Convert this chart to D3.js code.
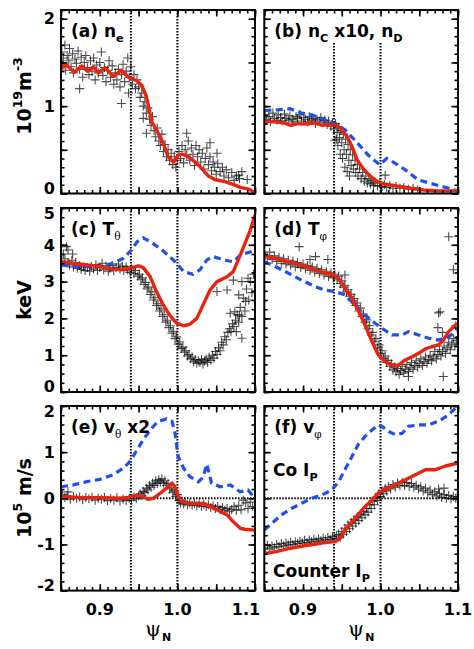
<!DOCTYPE html>
<html><head><meta charset="utf-8">
<script src="https://cdn.jsdelivr.net/npm/d3@7"></script>
<style>
body{margin:0;background:#fff}
svg{display:block}
text{font-family:"DejaVu Sans",sans-serif;font-weight:bold;fill:#000}
</style>
</head><body>
<svg id="c" width="474" height="649"></svg>
<script>
// ---------------- DATA ----------------
const xDomain = [0.85, 1.1];
const xLabelTicks = [0.9, 1.0, 1.1];
const sepLines = [0.94, 1.0];
const yDomainDens = [0, 2.1], yLabelDens = [0, 1, 2];
const yDomainTemp = [0, 5],   yLabelTemp = [0, 1, 2, 3, 4, 5];
const yDomainVel  = [-2, 2],  yLabelVel  = [-2, -1, 0, 1, 2];

// (a) n_e
const neScatter = [[0.851,1.62],[0.852,1.48],[0.853,1.55],[0.855,1.70],[0.856,1.41],[0.858,1.58],[0.860,1.52],[0.861,1.66],[0.863,1.45],[0.865,1.60],[0.866,1.38],[0.868,1.54],[0.870,1.49],[0.872,1.63],[0.874,1.42],[0.874,1.20],[0.876,1.56],[0.878,1.33],[0.880,1.50],[0.882,1.58],[0.884,1.44],[0.886,1.36],[0.888,1.52],[0.890,1.40],[0.892,1.55],[0.894,1.30],[0.896,1.47],[0.898,1.38],[0.900,1.50],[0.902,1.62],[0.904,1.35],[0.906,1.44],[0.908,1.28],[0.910,1.41],[0.912,1.52],[0.914,1.33],[0.916,1.46],[0.918,1.25],[0.920,1.38],[0.922,1.30],[0.924,1.42],[0.926,1.22],[0.928,1.36],[0.928,1.03],[0.930,1.48],[0.932,1.28],[0.934,1.40],[0.936,1.55],[0.937,1.15],[0.938,1.33],[0.940,1.45],[0.942,1.25],[0.944,1.36],[0.946,1.20],[0.948,1.30],[0.950,1.22],[0.952,1.10],[0.954,1.15],[0.956,1.00],[0.956,0.86],[0.958,1.05],[0.960,0.92],[0.960,0.69],[0.962,0.98],[0.964,0.85],[0.966,0.78],[0.968,0.88],[0.970,0.72],[0.972,0.65],[0.974,0.75],[0.976,0.60],[0.978,0.55],[0.980,0.68],[0.982,0.48],[0.984,0.56],[0.986,0.42],[0.988,0.50],[0.990,0.38],[0.992,0.46],[0.994,0.33],[0.996,0.42],[0.998,0.30],[1.000,0.38],[1.002,0.48],[1.004,0.40],[1.006,0.55],[1.008,0.35],[1.010,0.50],[1.012,0.44],[1.012,0.69],[1.014,0.60],[1.016,0.38],[1.018,0.52],[1.020,0.45],[1.022,0.32],[1.024,0.55],[1.026,0.42],[1.028,0.50],[1.030,0.36],[1.032,0.46],[1.034,0.28],[1.036,0.40],[1.038,0.52],[1.040,0.33],[1.042,0.42],[1.042,0.58],[1.044,0.26],[1.046,0.36],[1.048,0.30],[1.050,0.22],[1.051,0.46],[1.052,0.34],[1.055,0.25],[1.058,0.30],[1.060,0.20],[1.063,0.27],[1.066,0.18],[1.070,0.24],[1.073,0.15],[1.076,0.20],[1.079,0.21],[1.080,0.17],[1.083,0.25],[1.090,0.16]];
const neRed = [[0.850,1.43],[0.857,1.47],[0.867,1.39],[0.877,1.46],[0.884,1.40],[0.892,1.45],[0.898,1.38],[0.907,1.44],[0.917,1.34],[0.928,1.41],[0.937,1.33],[0.948,1.29],[0.954,1.24],[0.960,1.11],[0.967,0.82],[0.973,0.73],[0.982,0.57],[0.988,0.42],[0.995,0.36],[1.001,0.44],[1.006,0.45],[1.014,0.42],[1.023,0.36],[1.031,0.29],[1.040,0.20],[1.048,0.16],[1.061,0.135],[1.072,0.105],[1.081,0.07],[1.092,0.05],[1.100,0.01]];

// (b) n_C x10, n_D
const ncScatter = [[0.851,0.90],[0.853,0.85],[0.856,0.88],[0.858,0.82],[0.861,0.92],[0.863,0.86],[0.866,0.84],[0.868,0.90],[0.871,0.87],[0.873,0.83],[0.876,0.91],[0.878,0.86],[0.881,0.84],[0.883,0.89],[0.886,0.85],[0.888,0.82],[0.891,0.88],[0.893,0.86],[0.896,0.90],[0.898,0.83],[0.901,0.87],[0.903,0.85],[0.906,0.82],[0.908,0.88],[0.911,0.84],[0.913,0.86],[0.916,0.80],[0.918,0.85],[0.921,0.83],[0.923,0.87],[0.926,0.81],[0.928,0.84],[0.931,0.79],[0.933,0.83],[0.936,0.77],[0.938,0.81],[0.940,0.74],[0.941,0.61],[0.942,0.80],[0.943,0.62],[0.944,0.70],[0.945,0.55],[0.946,0.76],[0.947,0.64],[0.948,0.45],[0.949,0.72],[0.950,0.58],[0.951,0.40],[0.952,0.68],[0.953,0.50],[0.954,0.30],[0.955,0.62],[0.956,0.45],[0.957,0.25],[0.958,0.56],[0.959,0.38],[0.960,0.20],[0.961,0.50],[0.962,0.32],[0.964,0.44],[0.965,0.28],[0.967,0.38],[0.968,0.24],[0.970,0.33],[0.971,0.20],[0.973,0.28],[0.975,0.17],[0.977,0.24],[0.979,0.14],[0.981,0.20],[0.983,0.12],[0.985,0.17],[0.987,0.11],[0.989,0.15],[0.991,0.09],[0.993,0.13],[0.996,0.09],[0.999,0.12],[1.002,0.08],[1.005,0.10],[1.006,0.21],[1.008,0.07],[1.012,0.09],[1.016,0.06],[1.020,0.08],[1.025,0.06],[1.030,0.07],[1.036,0.05],[1.042,0.06],[1.048,0.04]];
const ncRed = [[0.850,0.83],[0.8625,0.82],[0.875,0.81],[0.884,0.78],[0.893,0.80],[0.906,0.795],[0.914,0.81],[0.925,0.78],[0.931,0.79],[0.942,0.78],[0.949,0.745],[0.957,0.65],[0.964,0.52],[0.970,0.38],[0.979,0.27],[0.988,0.19],[0.996,0.135],[1.005,0.11],[1.022,0.085],[1.039,0.06],[1.056,0.04],[1.074,0.03],[1.100,0.03]];
const ncBlue = [[0.850,0.95],[0.864,0.955],[0.883,0.97],[0.898,0.92],[0.911,0.90],[0.924,0.86],[0.941,0.80],[0.954,0.73],[0.971,0.57],[0.984,0.44],[0.999,0.33],[1.008,0.40],[1.019,0.345],[1.032,0.27],[1.049,0.155],[1.071,0.10],[1.088,0.06],[1.099,0.03]];

// (c) T_theta
const tthScatter = [[0.851,3.55],[0.853,3.75],[0.855,3.62],[0.857,3.95],[0.859,3.86],[0.859,3.50],[0.861,3.45],[0.864,3.58],[0.865,3.75],[0.866,3.40],[0.869,3.52],[0.871,3.36],[0.874,3.44],[0.876,3.33],[0.879,3.40],[0.881,3.30],[0.884,3.38],[0.887,3.28],[0.889,3.42],[0.892,3.34],[0.895,3.46],[0.897,3.30],[0.900,3.38],[0.903,3.50],[0.905,3.32],[0.908,3.42],[0.911,3.28],[0.913,3.36],[0.916,3.44],[0.918,3.30],[0.921,3.38],[0.924,3.48],[0.926,3.34],[0.929,3.42],[0.931,3.30],[0.934,3.40],[0.936,3.32],[0.939,3.25],[0.941,3.35],[0.944,3.22],[0.946,3.30],[0.949,3.15],[0.951,3.20],[0.953,3.05],[0.955,3.10],[0.957,2.92],[0.959,2.98],[0.961,2.80],[0.963,2.85],[0.965,2.65],[0.967,2.72],[0.969,2.50],[0.971,2.56],[0.973,2.35],[0.975,2.40],[0.977,2.20],[0.979,2.26],[0.981,2.05],[0.983,2.10],[0.985,1.90],[0.987,1.95],[0.989,1.75],[0.991,1.80],[0.993,1.60],[0.995,1.65],[0.997,1.45],[0.999,1.50],[1.001,1.30],[1.003,1.36],[1.005,1.18],[1.007,1.22],[1.009,1.08],[1.011,1.12],[1.013,0.98],[1.015,1.02],[1.017,0.90],[1.019,0.95],[1.021,0.82],[1.023,0.88],[1.025,0.78],[1.027,0.85],[1.029,0.80],[1.031,0.88],[1.033,0.76],[1.035,0.84],[1.037,0.90],[1.039,0.80],[1.041,0.95],[1.043,0.86],[1.045,1.00],[1.047,0.92],[1.049,1.10],[1.051,1.02],[1.051,2.73],[1.053,1.20],[1.055,1.12],[1.057,1.35],[1.059,1.28],[1.061,1.50],[1.063,1.42],[1.064,2.77],[1.065,1.62],[1.067,1.72],[1.068,2.14],[1.069,1.65],[1.071,1.85],[1.072,3.04],[1.073,1.78],[1.074,2.18],[1.075,1.95],[1.076,1.64],[1.077,2.10],[1.079,1.90],[1.079,2.64],[1.080,2.09],[1.081,2.30],[1.083,2.05],[1.083,3.00],[1.083,1.46],[1.085,2.55],[1.087,2.20],[1.088,2.46],[1.089,2.80],[1.091,3.09],[1.092,2.50],[1.094,3.00],[1.096,2.70],[1.098,3.20]];
const tthRed = [[0.850,3.54],[0.866,3.50],[0.883,3.45],[0.900,3.41],[0.917,3.34],[0.930,3.32],[0.941,3.38],[0.950,3.43],[0.956,3.38],[0.965,3.13],[0.973,2.73],[0.982,2.36],[0.990,2.09],[0.999,1.87],[1.008,1.80],[1.016,1.84],[1.025,2.00],[1.033,2.36],[1.042,2.77],[1.051,3.00],[1.064,3.13],[1.072,3.27],[1.081,3.72],[1.094,4.40],[1.100,4.81]];
const tthBlue = [[0.850,3.45],[0.874,3.41],[0.900,3.41],[0.917,3.50],[0.930,3.63],[0.941,3.86],[0.948,4.08],[0.956,4.19],[0.965,4.08],[0.978,3.90],[0.990,3.68],[0.999,3.50],[1.008,3.27],[1.020,3.20],[1.029,3.32],[1.038,3.59],[1.046,3.68],[1.059,3.59],[1.072,3.54],[1.081,3.72],[1.100,3.85]];

// (d) T_phi
const tphScatter = [[0.851,3.72],[0.854,3.65],[0.857,3.80],[0.860,3.60],[0.863,3.70],[0.866,3.55],[0.869,3.66],[0.872,3.50],[0.875,3.62],[0.878,3.48],[0.881,3.58],[0.884,3.45],[0.887,3.55],[0.890,3.40],[0.893,3.52],[0.895,3.95],[0.897,3.38],[0.900,3.48],[0.903,3.35],[0.906,3.44],[0.909,3.30],[0.909,3.60],[0.912,3.40],[0.915,3.26],[0.916,3.68],[0.918,3.36],[0.921,3.22],[0.924,3.32],[0.927,3.18],[0.930,3.28],[0.932,3.60],[0.933,3.14],[0.936,3.24],[0.939,3.10],[0.941,3.20],[0.944,3.05],[0.946,3.15],[0.948,2.95],[0.950,3.02],[0.952,2.85],[0.954,2.90],[0.954,3.18],[0.956,2.72],[0.958,2.78],[0.960,2.60],[0.962,2.66],[0.964,2.48],[0.966,2.54],[0.968,2.35],[0.970,2.42],[0.972,2.20],[0.974,2.28],[0.976,2.05],[0.978,2.12],[0.980,1.90],[0.982,1.96],[0.984,1.72],[0.986,1.80],[0.988,1.55],[0.990,1.62],[0.992,1.38],[0.994,1.45],[0.996,1.20],[0.998,1.28],[1.000,1.05],[1.002,1.12],[1.004,0.92],[1.006,0.98],[1.008,0.80],[1.010,0.86],[1.012,0.70],[1.014,0.76],[1.016,0.60],[1.018,0.68],[1.020,0.55],[1.022,0.64],[1.024,0.48],[1.026,0.58],[1.028,0.70],[1.030,0.52],[1.032,0.62],[1.034,0.75],[1.036,0.56],[1.036,0.42],[1.038,0.66],[1.040,0.80],[1.042,0.62],[1.044,0.72],[1.046,0.85],[1.048,0.68],[1.050,0.78],[1.052,0.90],[1.054,0.72],[1.056,0.82],[1.058,0.95],[1.060,0.78],[1.062,0.88],[1.064,1.00],[1.066,0.85],[1.068,0.95],[1.070,1.10],[1.072,0.90],[1.074,1.02],[1.074,1.75],[1.075,2.15],[1.076,1.15],[1.077,2.18],[1.078,0.98],[1.080,1.10],[1.080,1.62],[1.081,0.42],[1.082,1.25],[1.084,1.05],[1.086,1.20],[1.088,1.35],[1.088,4.22],[1.090,1.15],[1.092,1.30],[1.094,1.45],[1.094,3.32],[1.096,1.25],[1.097,1.80],[1.098,1.40]];
const tphRed = [[0.850,3.70],[0.864,3.63],[0.881,3.54],[0.898,3.45],[0.916,3.32],[0.928,3.24],[0.939,3.18],[0.946,3.09],[0.954,2.82],[0.963,2.55],[0.971,2.23],[0.980,1.82],[0.989,1.37],[0.997,1.01],[1.006,0.82],[1.015,0.73],[1.023,0.73],[1.032,0.87],[1.041,0.96],[1.049,1.05],[1.058,1.17],[1.066,1.23],[1.075,1.28],[1.081,1.41],[1.088,1.64],[1.099,1.87]];
const tphBlue = [[0.850,3.54],[0.864,3.41],[0.881,3.23],[0.898,3.04],[0.916,2.86],[0.928,2.77],[0.941,2.73],[0.954,2.64],[0.967,2.36],[0.980,2.09],[0.993,1.87],[1.002,1.73],[1.015,1.55],[1.028,1.55],[1.036,1.64],[1.049,1.55],[1.062,1.46],[1.075,1.41],[1.088,1.50],[1.099,1.68]];

// (e) v_theta x2
const vthScatter = [[0.852,0.08],[0.855,0.02],[0.858,0.05],[0.859,0.14],[0.862,-0.02],[0.866,0.04],[0.870,0.00],[0.874,0.03],[0.878,-0.03],[0.882,0.02],[0.886,-0.01],[0.890,0.03],[0.894,-0.04],[0.898,0.00],[0.902,-0.02],[0.906,0.02],[0.910,-0.05],[0.914,-0.01],[0.918,-0.04],[0.922,0.01],[0.926,-0.06],[0.930,-0.02],[0.934,-0.05],[0.938,0.00],[0.941,-0.04],[0.944,0.03],[0.947,-0.01],[0.950,0.05],[0.952,0.10],[0.954,0.06],[0.956,0.15],[0.958,0.12],[0.960,0.22],[0.962,0.18],[0.964,0.28],[0.966,0.24],[0.968,0.33],[0.970,0.28],[0.972,0.38],[0.974,0.32],[0.976,0.40],[0.978,0.35],[0.980,0.42],[0.982,0.33],[0.984,0.38],[0.986,0.28],[0.988,0.32],[0.990,0.20],[0.992,0.24],[0.994,0.12],[0.996,0.16],[0.998,0.04],[1.000,0.08],[1.002,-0.05],[1.004,-0.10],[1.006,-0.06],[1.008,-0.12],[1.010,-0.08],[1.013,-0.14],[1.016,-0.10],[1.019,-0.15],[1.022,-0.11],[1.025,-0.16],[1.028,-0.12],[1.031,-0.17],[1.034,-0.13],[1.037,-0.18],[1.040,-0.14],[1.043,-0.20],[1.046,-0.16],[1.049,-0.22],[1.052,-0.18],[1.055,-0.24],[1.058,-0.20],[1.061,-0.26],[1.064,-0.22],[1.067,-0.28],[1.070,-0.24],[1.073,-0.18],[1.076,-0.26],[1.079,-0.15],[1.082,-0.25],[1.085,-0.04],[1.088,-0.10],[1.091,-0.22],[1.094,-0.08],[1.097,-0.18]];
const vthRed = [[0.850,0.035],[0.874,0.02],[0.900,0.015],[0.926,0.0],[0.937,0.02],[0.943,0.05],[0.950,0.065],[0.956,0.035],[0.962,-0.02],[0.969,0.0],[0.978,0.11],[0.986,0.22],[0.993,0.33],[0.997,0.25],[1.001,0.05],[1.006,-0.07],[1.014,-0.11],[1.025,-0.11],[1.033,-0.11],[1.042,-0.18],[1.051,-0.25],[1.064,-0.36],[1.072,-0.51],[1.081,-0.65],[1.087,-0.67],[1.100,-0.69]];
const vthBlue = [[0.850,0.25],[0.866,0.29],[0.883,0.36],[0.900,0.41],[0.917,0.51],[0.930,0.65],[0.939,0.80],[0.948,1.05],[0.956,1.27],[0.965,1.48],[0.975,1.67],[0.986,1.72],[0.993,1.67],[0.997,1.41],[1.001,0.90],[1.008,0.65],[1.016,0.47],[1.027,0.36],[1.033,0.45],[1.038,0.74],[1.044,0.33],[1.055,0.25],[1.068,0.29],[1.081,0.14],[1.091,0.18],[1.100,0.00]];

// (f) v_phi
const vphScatter = [[0.851,-1.08],[0.854,-1.02],[0.857,-1.10],[0.860,-1.04],[0.863,-1.07],[0.866,-1.00],[0.869,-1.05],[0.872,-0.98],[0.875,-1.03],[0.878,-0.97],[0.881,-1.01],[0.884,-0.95],[0.887,-1.00],[0.890,-0.94],[0.893,-0.98],[0.896,-0.93],[0.899,-0.97],[0.902,-0.91],[0.905,-0.96],[0.908,-0.90],[0.911,-0.94],[0.914,-0.89],[0.917,-0.93],[0.920,-0.88],[0.923,-0.92],[0.926,-0.86],[0.929,-0.90],[0.932,-0.85],[0.935,-0.89],[0.938,-0.83],[0.941,-0.87],[0.943,-0.80],[0.946,-0.78],[0.948,-0.84],[0.950,-0.72],[0.952,-0.78],[0.954,-0.65],[0.956,-0.72],[0.958,-0.58],[0.960,-0.66],[0.962,-0.52],[0.964,-0.60],[0.966,-0.46],[0.968,-0.54],[0.970,-0.40],[0.972,-0.48],[0.974,-0.34],[0.976,-0.42],[0.978,-0.28],[0.980,-0.36],[0.982,-0.22],[0.984,-0.30],[0.986,-0.14],[0.988,-0.22],[0.990,-0.06],[0.992,-0.14],[0.994,0.02],[0.996,-0.05],[0.998,0.10],[1.000,0.04],[1.002,0.16],[1.004,0.10],[1.006,0.22],[1.008,0.16],[1.010,0.26],[1.013,0.20],[1.016,0.30],[1.019,0.24],[1.022,0.33],[1.025,0.27],[1.028,0.35],[1.031,0.28],[1.034,0.34],[1.037,0.26],[1.040,0.32],[1.043,0.24],[1.046,0.28],[1.049,0.20],[1.052,0.25],[1.055,0.16],[1.058,0.22],[1.061,0.12],[1.064,0.18],[1.067,0.08],[1.070,0.14],[1.073,0.05],[1.075,0.20],[1.076,0.11],[1.079,0.02],[1.082,0.08],[1.082,0.22],[1.085,0.00],[1.088,0.06],[1.091,-0.01],[1.094,0.04],[1.097,0.00],[1.099,0.03]];
const vphRed = [[0.850,-1.20],[0.864,-1.16],[0.881,-1.09],[0.898,-1.04],[0.916,-0.99],[0.928,-0.96],[0.941,-0.94],[0.948,-0.87],[0.954,-0.69],[0.963,-0.51],[0.971,-0.36],[0.980,-0.18],[0.989,-0.04],[0.997,0.11],[1.006,0.20],[1.015,0.25],[1.023,0.33],[1.032,0.40],[1.045,0.51],[1.058,0.62],[1.071,0.62],[1.084,0.70],[1.099,0.76]];
const vphBlue = [[0.850,-0.69],[0.860,-0.54],[0.872,-0.36],[0.885,-0.22],[0.898,-0.11],[0.911,0.0],[0.924,0.07],[0.937,0.18],[0.946,0.36],[0.954,0.62],[0.963,0.90],[0.971,1.16],[0.980,1.34],[0.989,1.48],[0.997,1.59],[1.002,1.56],[1.010,1.45],[1.019,1.38],[1.028,1.41],[1.036,1.56],[1.049,1.59],[1.062,1.59],[1.075,1.67],[1.088,1.81],[1.099,1.99]];

// labels (text segments)
const labelA = [["(a) n",""],["e","sub"]];
const labelB = [["(b) n",""],["C","sub"],[" x10, n",""],["D","sub"]];
const labelC = [["(c) T",""],["θ","gsub"]];
const labelD = [["(d) T",""],["φ","gsub"]];
const labelE = [["(e) v",""],["θ","gsub"],[" x2",""]];
const labelF = [["(f) v",""],["φ","gsub"]];
const yTitleDens = [["10",""],["19","sup"],["m",""],["-3","sup"]];
const yTitleTemp = [["keV",""]];
const yTitleVel  = [["10",""],["5","sup"],[" m/s",""]];
const coText = [["Co I",""],["P","sub"]];
const counterText = [["Counter I",""],["P","sub"]];

// ---------------- LAYOUT ----------------
const svg = d3.select("#c");
const cols = [[61,255],[264.3,458]];
const rows = [[10,193.5],[208,392],[406,590.6]];
const RED = "#e8230f", BLUE = "#1f4ff0";

function addText(g, segs, x, y, size, attrs) {
  const t = g.append("text").attr("x", x).attr("y", y).attr("font-size", size);
  if (attrs) Object.entries(attrs).forEach(([k,v]) => t.attr(k, v));
  let shift = 0;
  segs.forEach(([s, kind]) => {
    let target = 0, fs = size, fam = null, fw = null;
    if (kind === "sub") { target = size*0.32; fs = size*0.66; }
    if (kind === "gsub") { target = size*0.32; fs = size*0.62; fam = "DejaVu Serif"; fw = "normal"; }
    if (kind === "sup") { target = -size*0.45; fs = size*0.66; }
    const ts = t.append("tspan").attr("dy", target - shift).attr("font-size", fs).text(s);
    if (fam) ts.style("font-family", fam);
    if (fw) ts.style("font-weight", fw);
    shift = target;
  });
  return t;
}

const panels = [
  {c:0,r:0,yd:yDomainDens,ylab:yLabelDens,ymaj:0.5,ymin:0.1,label:labelA,sc:neScatter,red:neRed,blue:null,dotTop:[null,null],zero:false},
  {c:1,r:0,yd:yDomainDens,ylab:null,ymaj:0.5,ymin:0.1,label:labelB,sc:ncScatter,red:ncRed,blue:ncBlue,dotTop:[43,43],zero:false},
  {c:0,r:1,yd:yDomainTemp,ylab:yLabelTemp,ymaj:1,ymin:0.25,label:labelC,sc:tthScatter,red:tthRed,blue:tthBlue,dotTop:[null,null],zero:false},
  {c:1,r:1,yd:yDomainTemp,ylab:null,ymaj:1,ymin:0.25,label:labelD,sc:tphScatter,red:tphRed,blue:tphBlue,dotTop:[null,null],zero:false},
  {c:0,r:2,yd:yDomainVel,ylab:yLabelVel,ymaj:1,ymin:0.2,label:labelE,sc:vthScatter,red:vthRed,blue:vthBlue,dotTop:[440,null],zero:true},
  {c:1,r:2,yd:yDomainVel,ylab:null,ymaj:1,ymin:0.2,label:labelF,sc:vphScatter,red:vphRed,blue:vphBlue,dotTop:[null,null],zero:true}
];

const stepVals = (d, step) => d3.range(Math.round(d[0]/step), Math.round(d[1]/step)+1).map(i => +(i*step).toFixed(6));

panels.forEach((p, i) => {
  const [x0, x1] = cols[p.c], [y0, y1] = rows[p.r];
  const x = d3.scaleLinear().domain(xDomain).range([x0, x1]);
  const y = d3.scaleLinear().domain(p.yd).range([y1, y0]);
  const g = svg.append("g");
  const clipId = "clip" + i;
  svg.append("clipPath").attr("id", clipId).append("rect")
    .attr("x", x0).attr("y", y0).attr("width", x1-x0).attr("height", y1-y0);
  const pg = g.append("g").attr("clip-path", `url(#${clipId})`);

  // dotted reference lines
  sepLines.forEach((v, k) => {
    pg.append("line").attr("x1", x(v)).attr("x2", x(v))
      .attr("y1", p.dotTop[k] == null ? y0 : p.dotTop[k]).attr("y2", y1)
      .attr("stroke", "#000").attr("stroke-width", 2).attr("stroke-dasharray", "1.5,1.5");
  });
  if (p.zero) {
    pg.append("line").attr("x1", x0).attr("x2", x1).attr("y1", y(0)).attr("y2", y(0))
      .attr("stroke", "#000").attr("stroke-width", 2).attr("stroke-dasharray", "1.5,1.5");
  }

  // scatter crosses
  pg.append("g").selectAll("path").data(p.sc).join("path")
    .attr("d", d => `M${x(d[0])-4.5},${y(d[1])}h9M${x(d[0])},${y(d[1])-4.5}v9`)
    .attr("stroke", "#000").attr("stroke-opacity", 0.7).attr("stroke-width", 1.1).attr("fill", "none");

  const line = d3.line().x(d => x(d[0])).y(d => y(d[1]));
  if (p.blue) pg.append("path").attr("d", line(p.blue)).attr("fill", "none")
      .attr("stroke", BLUE).attr("stroke-width", 3.2).attr("stroke-dasharray", "7,4.5");
  if (p.red) pg.append("path").attr("d", line(p.red)).attr("fill", "none")
      .attr("stroke", RED).attr("stroke-width", 3.4).attr("stroke-linejoin", "round");

  // ticks (inward, all four sides)
  const xMaj = stepVals(xDomain, 0.05), xMin = stepVals(xDomain, 0.01);
  const yMaj = stepVals(p.yd, p.ymaj), yMin = stepVals(p.yd, p.ymin);
  const addAxis = (axis, tr) => {
    const a = g.append("g").attr("transform", tr).call(axis);
    a.select(".domain").remove();
    a.selectAll("line").attr("stroke", "#000").attr("stroke-width", 1.6);
    a.selectAll("text").remove();
  };
  [[xMin,3.5],[xMaj,6.5]].forEach(([vals,len]) => {
    addAxis(d3.axisBottom(x).tickValues(vals).tickSize(-len), `translate(0,${y1})`);
    addAxis(d3.axisTop(x).tickValues(vals).tickSize(-len), `translate(0,${y0})`);
  });
  [[yMin,3.5],[yMaj,6.5]].forEach(([vals,len]) => {
    addAxis(d3.axisLeft(y).tickValues(vals).tickSize(-len), `translate(${x0},0)`);
    addAxis(d3.axisRight(y).tickValues(vals).tickSize(-len), `translate(${x1},0)`);
  });

  // frame
  g.append("rect").attr("x", x0).attr("y", y0).attr("width", x1-x0).attr("height", y1-y0)
    .attr("fill", "none").attr("stroke", "#000").attr("stroke-width", 2);

  // y tick labels
  if (p.ylab) {
    p.ylab.forEach(v => {
      const yy = Math.min(Math.max(y(v), y0+5.5), y1-5.5);
      g.append("text").attr("x", x0-6).attr("y", yy).attr("dy", "0.36em")
        .attr("text-anchor", "end").attr("font-size", 16).text(v);
    });
  }
  // x tick labels
  if (p.r === 2) {
    xLabelTicks.forEach(v => {
      const dx = (p.c === 0 && v === 1.1) ? -9 : 0;
      g.append("text").attr("x", x(v)+dx).attr("y", 615).attr("text-anchor", "middle")
        .attr("font-size", 16).text(d3.format(".1f")(v));
    });
    const tx = addText(g, [["ψ",""]], (x0+x1)/2 - 5, 636, 20, {"text-anchor":"middle"});
    tx.style("font-family", "DejaVu Serif").style("font-weight", "normal");
    g.append("text").attr("x", (x0+x1)/2 + 4).attr("y", 641).attr("font-size", 11).text("N");
  }
  // panel label
  addText(g, p.label, x0 + 10, y0 + 27, 17);
});

// y titles
addText(svg, yTitleDens, 31, 0, 19, {"text-anchor":"middle","transform":"translate(31,96) rotate(-90)","x":0});
addText(svg, yTitleTemp, 31, 0, 19, {"text-anchor":"middle","transform":"translate(31,300) rotate(-90)","x":0});
addText(svg, yTitleVel, 31, 0, 19, {"text-anchor":"middle","transform":"translate(31,498) rotate(-90)","x":0});

// legend texts in panel (f)
addText(svg, coText, 273, 476, 17);
addText(svg, counterText, 273, 577, 17);
</script>
</body></html>
